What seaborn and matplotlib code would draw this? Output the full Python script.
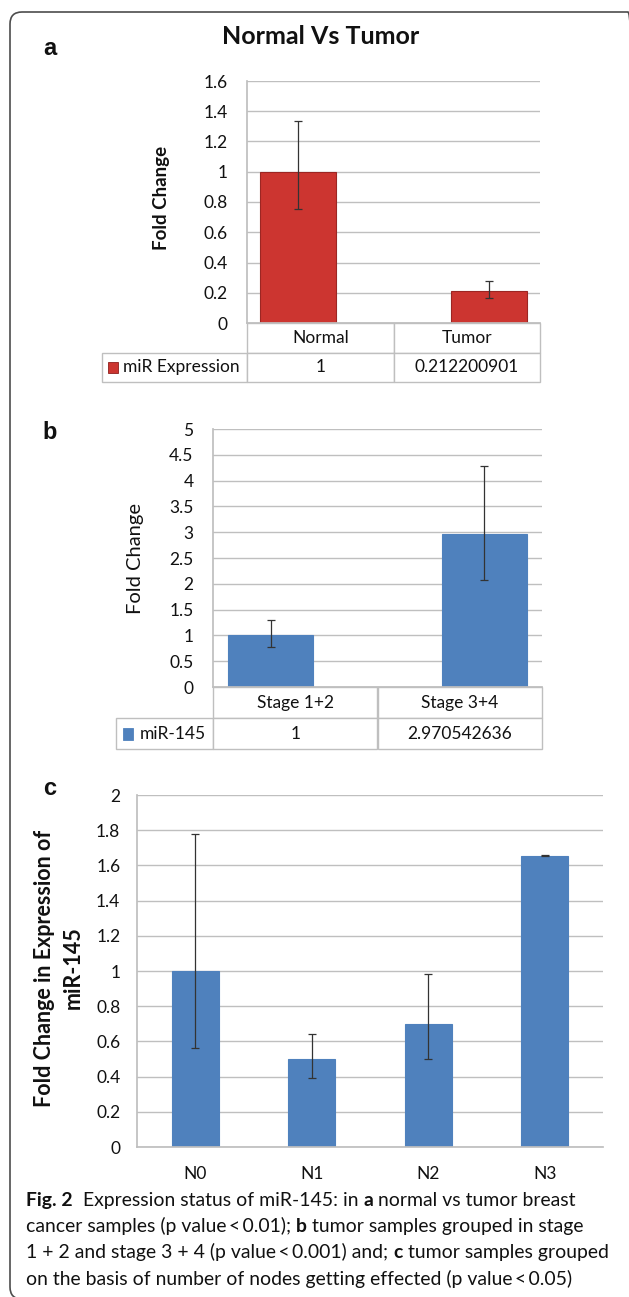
import numpy as np
import pandas as pd
import matplotlib
matplotlib.use('Agg')
import matplotlib.pyplot as plt
import seaborn as sns
from matplotlib.table import Table
from matplotlib.patches import Rectangle, FancyBboxPatch
from matplotlib.transforms import IdentityTransform

# panel a: normal vs tumor
cats_a = ['Normal', 'Tumor']
vals_a = [1, 0.212200901]
err_lo_a = [0.755, 0.165]
err_hi_a = [1.335, 0.278]
table_a = ['1', '0.212200901']
series_a = 'miR Expression'

# panel b: stage groups
cats_b = ['Stage 1+2', 'Stage 3+4']
vals_b = [1, 2.970542636]
err_lo_b = [0.78, 2.07]
err_hi_b = [1.29, 4.29]
table_b = ['1', '2.970542636']
series_b = 'miR-145'

# panel c: nodes
cats_c = ['N0', 'N1', 'N2', 'N3']
vals_c = [1, 0.5, 0.70, 1.655]
err_lo_c = [0.56, 0.39, 0.50, 1.652]
err_hi_c = [1.78, 0.64, 0.985, 1.658]

W, H = 629, 1297
GRID = '#BFBFBF'
TXT = '#111111'
RED = '#CC3530'
BLUE = '#4F81BD'
FS = 12.5

sns.set_theme(style='white')
plt.rcParams['font.family'] = ['Lato', 'DejaVu Sans']

fig = plt.figure(figsize=(W / 100, H / 100), dpi=100)
fig.patch.set_facecolor('white')


def rect(l, t, r, b):
    return [l / W, 1 - b / H, (r - l) / W, (b - t) / H]


def bar_panel(box, cats, vals, lo, hi, color, ymax, step, edge):
    ax = fig.add_axes(rect(*box))
    df = pd.DataFrame({'cat': cats, 'val': vals})
    sns.barplot(data=df, x='cat', y='val', color=color, width=0.4, saturation=1,
                errorbar=None, edgecolor=edge, linewidth=0.8, ax=ax)
    x = np.arange(len(cats))
    v = np.array(vals)
    ax.errorbar(x, v, yerr=[v - np.array(lo), np.array(hi) - v], fmt='none',
                ecolor='#333333', elinewidth=0.9, capsize=3, capthick=0.9, zorder=5)
    ax.set_ylim(0, ymax)
    ticks = np.arange(0, ymax + step / 2, step)
    ax.set_yticks(ticks)
    ax.set_yticklabels([f'{t:g}' for t in ticks])
    ax.yaxis.grid(True, color=GRID, lw=1)
    ax.set_axisbelow(True)
    for s in ['top', 'right']:
        ax.spines[s].set_visible(False)
    ax.spines['left'].set_color(GRID)
    ax.spines['bottom'].set_color(GRID)
    ax.set_xlabel('')
    ax.set_ylabel('')
    ax.tick_params(axis='y', labelsize=FS, labelcolor=TXT)
    return ax


def data_table(ax, box, cats, label, cells, leg_left, text_x, row_h):
    l, t, r, b = box
    aw, ah = r - l, b - t
    tbl = Table(ax, bbox=[(leg_left - l) / aw, -2 * row_h / ah, (r - leg_left) / aw, 2 * row_h / ah])
    cw = aw / len(cats)
    lw = l - leg_left
    tbl.add_cell(0, 0, lw, row_h, text='')
    tbl[0, 0].visible_edges = ''
    for j, c in enumerate(cats):
        tbl.add_cell(0, j + 1, cw, row_h, text=c, loc='center')
    cell = tbl.add_cell(1, 0, lw, row_h, text=label, loc='left')
    cell.PAD = (text_x - leg_left) / lw
    for j, v in enumerate(cells):
        tbl.add_cell(1, j + 1, cw, row_h, text=v, loc='center')
    tbl.auto_set_font_size(False)
    tbl.set_fontsize(FS)
    for c in tbl.get_celld().values():
        c.set_edgecolor(GRID)
        c.set_linewidth(1)
        c.get_text().set_color(TXT)
    ax.add_table(tbl)


def key(x0, y0, x1, y1, color, edge):
    fig.patches.append(Rectangle((x0, H - y1), x1 - x0, y1 - y0, facecolor=color,
                                 edgecolor=edge, lw=0.6, transform=IdentityTransform(),
                                 figure=fig))


def ftext(x, y, s, **kw):
    return fig.text(x / W, 1 - y / H, s, **kw)


# outer rounded frame (right side runs off the page)
fig.patches.append(FancyBboxPatch((10, -2), 630, H - 10, boxstyle='round,pad=0,rounding_size=12',
                                  facecolor='none', edgecolor='#4d4d4d', lw=1.2,
                                  transform=IdentityTransform(), figure=fig))

# ---- panel a
box_a = (247, 81, 540, 323)
ax_a = bar_panel(box_a, cats_a, vals_a, err_lo_a, err_hi_a, RED, 1.6, 0.2, '#9C2623')
ax_a.set_xticks([])
ax_a.tick_params(axis='y', length=0, pad=14)
data_table(ax_a, box_a, cats_a, series_a, table_a, 102, 123, 29.5)
key(108, 362, 118, 373, RED, '#8E1F1C')
ftext(321, 44, 'Normal Vs Tumor', fontsize=18, fontweight='bold', ha='center', va='baseline', color=TXT)
ftext(162, 198, 'Fold Change', fontsize=13.5, fontweight='bold', rotation=90, ha='center', va='center', color=TXT)
ftext(50, 55, 'a', fontsize=17, fontweight='bold', family='Liberation Sans', ha='center', va='baseline', color=TXT)

# ---- panel b
box_b = (213, 429, 542, 687)
ax_b = bar_panel(box_b, cats_b, vals_b, err_lo_b, err_hi_b, BLUE, 5, 0.5, BLUE)
ax_b.set_xticks([])
ax_b.tick_params(axis='y', length=0, pad=14)
data_table(ax_b, box_b, cats_b, series_b, table_b, 116, 140, 31)
key(123, 728, 133, 740, BLUE, BLUE)
ftext(136, 558, 'Fold Change', fontsize=14.5, rotation=90, ha='center', va='center', color=TXT)
ftext(50, 439, 'b', fontsize=17, fontweight='bold', family='Liberation Sans', ha='center', va='baseline', color=TXT)

# ---- panel c
box_c = (137, 795, 603, 1147)
ax_c = bar_panel(box_c, cats_c, vals_c, err_lo_c, err_hi_c, BLUE, 2, 0.2, BLUE)
ax_c.set_xticks(np.arange(len(cats_c)))
ax_c.set_xticklabels(cats_c)
ax_c.set_xticks(np.arange(-0.5, len(cats_c)), minor=True)
ax_c.tick_params(axis='x', which='major', length=0, pad=14, labelsize=FS, labelcolor=TXT)
ax_c.tick_params(axis='x', which='minor', length=5, color=GRID, width=1, direction='out')
ax_c.tick_params(axis='y', length=5, color=GRID, width=1, direction='out', pad=7)
ftext(59, 968, 'Fold Change in Expression of\nmiR-145', fontsize=15.5, fontweight='bold',
      rotation=90, ha='center', va='center', multialignment='center', linespacing=1.45, color=TXT)
ftext(50, 795, 'c', fontsize=17, fontweight='bold', family='Liberation Sans', ha='center', va='baseline', color=TXT)

# ---- caption with mixed weights
caption = [
    [('Fig. 2', True), ('  Expression status of miR-145: in ', False), ('a', True),
     (' normal vs tumor breast', False)],
    [('cancer samples (p value\u2009<\u20090.01); ', False), ('b', True),
     (' tumor samples grouped in stage', False)],
    [('1 + 2 and stage 3 + 4 (p value\u2009<\u20090.001) and; ', False), ('c', True),
     (' tumor samples grouped', False)],
    [('on the basis of number of nodes getting effected (p value\u2009<\u20090.05)', False)],
]
baselines = [1206, 1232, 1258, 1285]
renderer = fig.canvas.get_renderer()


def width_of(s, size, bold):
    t = fig.text(0, 0, s, fontsize=size, fontweight='bold' if bold else 'normal')
    w = t.get_window_extent(renderer).width
    t.remove()
    return w


def draw_line(x, y, parts, size, draw=True):
    sp = width_of('x x', size, False) - width_of('xx', size, False)
    for s, bold in parts:
        core = s.strip(' ')
        lead = len(s) - len(s.lstrip(' '))
        trail = len(s) - len(s.rstrip(' '))
        x += lead * sp
        t = ftext(x, y, core, fontsize=size, fontweight='bold' if bold else 'normal',
                  ha='left', va='baseline', color=TXT)
        x += t.get_window_extent(renderer).width + trail * sp
        if not draw:
            t.remove()
    return x


# fit caption size so the last line spans about 544 px
size = 13
end = draw_line(26, 0, caption[3], size, draw=False)
size = size * 544 / (end - 26)
for parts, yb in zip(caption, baselines):
    draw_line(26, yb, parts, size)

fig.savefig('out.png', dpi=100)
